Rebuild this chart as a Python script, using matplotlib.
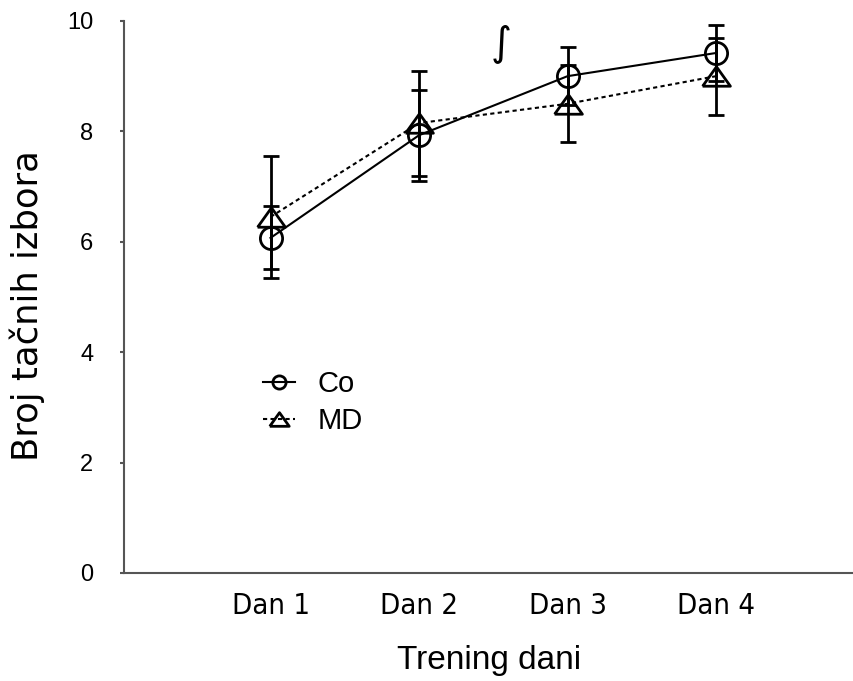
import matplotlib
matplotlib.use('Agg')
import matplotlib.pyplot as plt
from matplotlib.lines import Line2D

# Values
days = ['Dan 1', 'Dan 2', 'Dan 3', 'Dan 4']
co_mean = [6.07, 7.93, 9.0, 9.42]
co_err = [0.57, 0.82, 0.52, 0.5]
md_mean = [6.45, 8.15, 8.5, 9.0]
md_err = [1.1, 0.95, 0.7, 0.7]

plt.rcParams['font.family'] = ['Liberation Sans', 'DejaVu Sans']

# flattened triangle like the original marker
tri = [(-1, -0.7), (1, -0.7), (0, 0.7), (-1, -0.7)]
dots = (0, (2, 1.6))

fig = plt.figure(figsize=(8.54, 6.81), dpi=100)
ax = fig.add_axes([0.1452, 0.1586, 0.8548, 0.8106])

x = range(1, len(days) + 1)

ax.errorbar(x, md_mean, yerr=md_err, color='black', linestyle=dots, lw=1.5,
            marker=tri, markersize=20, markerfacecolor='none', markeredgewidth=2,
            elinewidth=2, capsize=5.5, capthick=2, zorder=3)
ax.errorbar(x, co_mean, yerr=co_err, color='black', linestyle='-', lw=1.5,
            marker='o', markersize=16, markerfacecolor='none', markeredgewidth=2,
            elinewidth=2, capsize=5.5, capthick=2, zorder=4)

# the stray mark at the top of the original
ax.text(2.555, 9.6, '\u222b', fontsize=29, ha='center', va='center',
        family='DejaVu Sans')

ax.set_xlim(0.0135, 4.929)
ax.set_ylim(0, 10)
ax.set_xticks(list(x))
ax.set_xticklabels(days, fontsize=21, family='DejaVu Sans', stretch='condensed')
ax.tick_params(axis='x', length=0, pad=14)
ax.set_yticks([0, 2, 4, 6, 8, 10])
ax.tick_params(axis='y', labelsize=17, length=3, width=1.5, pad=19,
               colors='#555555', labelcolor='black')

for side in ['top', 'right']:
    ax.spines[side].set_visible(False)
for side in ['left', 'bottom']:
    ax.spines[side].set_color('#555555')
    ax.spines[side].set_linewidth(1.5)

ax.set_xlabel('Trening dani', fontsize=24, labelpad=18)
ax.set_ylabel('Broj tačnih izbora', fontsize=25.5, family='DejaVu Sans')
ax.yaxis.set_label_coords(-0.108, 0.485)

handles = [
    Line2D([], [], color='black', lw=1.5, marker='o', markersize=9.5,
           markerfacecolor='none', markeredgewidth=2),
    Line2D([], [], color='black', lw=1.5, linestyle=dots, marker=tri, markersize=14,
           markerfacecolor='none', markeredgewidth=2),
]
fig.legend(handles, ['Co', 'MD'], loc='upper left', bbox_to_anchor=(0.308, 0.4567),
           frameon=False, fontsize=21, handlelength=1.1, handletextpad=0.76,
           labelspacing=0.32, borderpad=0, borderaxespad=0)

fig.savefig('out.png', dpi=100)
